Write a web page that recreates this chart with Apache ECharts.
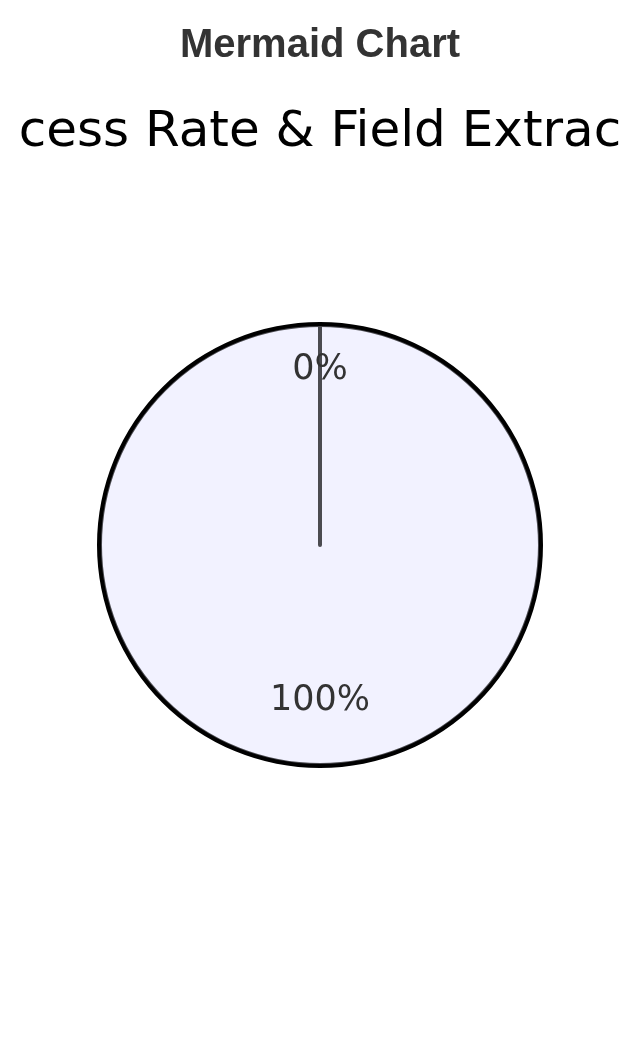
<!DOCTYPE html>
<html>
<head>
<meta charset="utf-8">
<style>
  html, body { margin: 0; padding: 0; background: #ffffff; }
  #chart { width: 640px; height: 1044px; }
</style>
<script src="https://cdn.jsdelivr.net/npm/echarts@6/dist/echarts.min.js"></script>
</head>
<body>
<div id="chart"></div>
<script>
// Data
var categories = ['Success', 'Failed'];
var values = [100, 0];
var titleText = 'Mermaid Chart';
var subtitleText = 'cess Rate & Field Extrac';

var pieData = categories.map(function (c, i) { return { name: c, value: values[i] }; });
// label data: zero-angle slice label nudged to sit at the same radius as the reference
var labelData = pieData.map(function (d) {
  return {
    name: d.name,
    value: d.value,
    label: { offset: d.value === 0 ? [0, -7] : [0, -12] }
  };
});

var chart = echarts.init(document.getElementById('chart'), null, { renderer: 'canvas' });
chart.setOption({
  animation: false,
  backgroundColor: '#ffffff',
  title: [
    {
      text: titleText,
      left: 'center',
      top: 21,
      textStyle: { fontFamily: 'Liberation Sans', fontSize: 40, fontWeight: 'bold', color: '#333333' }
    },
    {
      text: subtitleText,
      left: 'center',
      top: 103,
      textStyle: { fontFamily: 'DejaVu Sans', fontSize: 50, fontWeight: 'normal', color: '#000000' }
    }
  ],
  series: [
    {
      type: 'pie',
      center: [320, 545],
      radius: [0, 220],
      startAngle: 90,
      clockwise: true,
      silent: true,
      label: { show: false },
      labelLine: { show: false },
      itemStyle: { color: '#F2F2FF', borderColor: '#4b4b50', borderWidth: 4 },
      emphasis: { disabled: true },
      data: pieData
    },
    {
      type: 'pie',
      center: [320, 545],
      radius: [219, 223],
      silent: true,
      label: { show: false },
      labelLine: { show: false },
      itemStyle: { color: '#000000', borderWidth: 0 },
      emphasis: { disabled: true },
      data: [{ name: 'outline', value: 1 }]
    },
    {
      type: 'pie',
      center: [320, 545],
      radius: [110, 220],
      startAngle: 90,
      clockwise: true,
      silent: true,
      itemStyle: { color: 'rgba(0,0,0,0)', borderWidth: 0 },
      labelLine: { show: false },
      label: {
        show: true,
        position: 'inside',
        rotate: 0,
        formatter: '{d}%',
        fontFamily: 'DejaVu Sans',
        fontSize: 35,
        color: '#333333'
      },
      emphasis: { disabled: true },
      data: labelData
    }
  ]
});
</script>
</body>
</html>
